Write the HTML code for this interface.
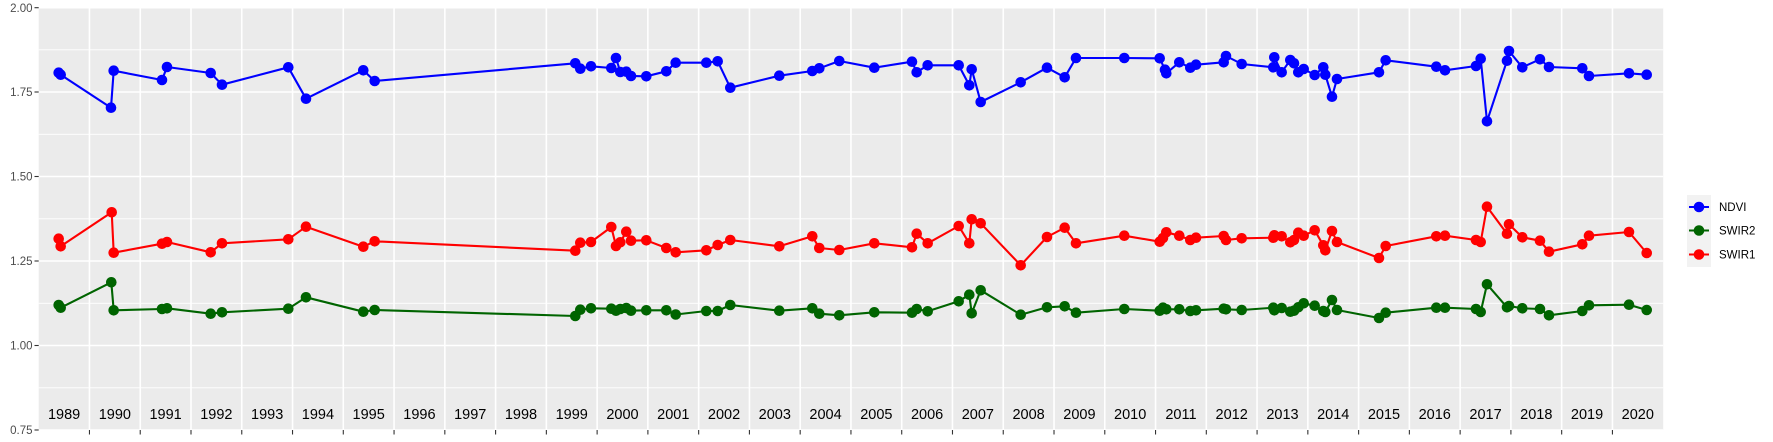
<!DOCTYPE html>
<html><head><meta charset="utf-8"><style>
html,body{margin:0;padding:0;background:#fff;}
svg{display:block;font-family:"Liberation Sans",sans-serif;}
</style></head><body>
<svg width="1773" height="442" viewBox="0 0 1773 442" xmlns="http://www.w3.org/2000/svg">
<rect x="38.7" y="7.7" width="1624.5" height="422.3" fill="#EBEBEB"/>
<g stroke="#fff" stroke-width="0.8">
<line x1="38.7" x2="1663.2" y1="49.8" y2="49.8"/><line x1="38.7" x2="1663.2" y1="134.3" y2="134.3"/>
<line x1="38.7" x2="1663.2" y1="218.8" y2="218.8"/><line x1="38.7" x2="1663.2" y1="303.3" y2="303.3"/>
<line x1="38.7" x2="1663.2" y1="387.8" y2="387.8"/>
</g>
<g stroke="#fff" stroke-width="1.6">
<line x1="38.7" x2="1663.2" y1="7.7" y2="7.7"/><line x1="38.7" x2="1663.2" y1="92" y2="92"/>
<line x1="38.7" x2="1663.2" y1="176.5" y2="176.5"/><line x1="38.7" x2="1663.2" y1="261" y2="261"/>
<line x1="38.7" x2="1663.2" y1="345.5" y2="345.5"/><line x1="38.7" x2="1663.2" y1="430" y2="430"/>
</g>
<g id="vg" stroke="#fff" stroke-width="1.6"></g>
<g id="ticks" stroke="#333" stroke-width="1.1">
<line x1="34.5" x2="38.7" y1="7.7" y2="7.7"/><line x1="34.5" x2="38.7" y1="92" y2="92"/>
<line x1="34.5" x2="38.7" y1="176.5" y2="176.5"/><line x1="34.5" x2="38.7" y1="261" y2="261"/>
<line x1="34.5" x2="38.7" y1="345.5" y2="345.5"/><line x1="34.5" x2="38.7" y1="430" y2="430"/>
</g>
<g font-size="11.5" fill="#4d4d4d" text-anchor="end">
<text x="32.5" y="11.8">2.00</text><text x="32.5" y="96.1">1.75</text><text x="32.5" y="180.6">1.50</text>
<text x="32.5" y="265.1">1.25</text><text x="32.5" y="349.6">1.00</text><text x="32.5" y="434.1">0.75</text>
</g>
<g id="years" font-size="14.5" fill="#000" text-anchor="middle"></g>
<g id="series"></g>
<rect x="1687" y="195" width="24" height="72" fill="#F2F2F2"/>
<line x1="1689" x2="1709" y1="207" y2="207" stroke="#0000FF" stroke-width="2"/><circle cx="1699" cy="207" r="5.3" fill="#0000FF"/>
<line x1="1689" x2="1709" y1="230.5" y2="230.5" stroke="#006400" stroke-width="2"/><circle cx="1699" cy="230.5" r="5.3" fill="#006400"/>
<line x1="1689" x2="1709" y1="254.5" y2="254.5" stroke="#FF0000" stroke-width="2"/><circle cx="1699" cy="254.5" r="5.3" fill="#FF0000"/>
<g font-size="11.5" fill="#000">
<text x="1719" y="211.2">NDVI</text><text x="1719" y="234.7">SWIR2</text><text x="1719" y="258.7">SWIR1</text>
</g>
</svg>
<script>
var NS="http://www.w3.org/2000/svg";
function el(t,a,p){var e=document.createElementNS(NS,t);for(var k in a)e.setAttribute(k,a[k]);p.appendChild(e);return e;}
var vg=document.getElementById('vg'),tk=document.getElementById('ticks'),yr=document.getElementById('years');
var w=1624.5/32;
for(var k=1;k<32;k++){var x=38.7+w*k;el('line',{x1:x,x2:x,y1:7.7,y2:430},vg);el('line',{x1:x,x2:x,y1:430,y2:434.5},tk);}
for(var k=0;k<32;k++){var t=el('text',{x:38.7+w*(k+0.5),y:419},yr);t.textContent=1989+k;}
var ndvi=[[58.7,72.7],[60.7,74.7],[111,107.7],[113.7,70.7],[162,80],[167,67],[210.7,73],[222,84.7],[288.3,67.3],[306,98.7],[363.3,70.3],[374.7,81],[575.3,63.3],[580.3,68.7],[591,66.3],[611.3,68],[616,58],[620.3,72],[626.3,71.7],[631,76],[646.3,76.3],[666.3,71.3],[675.7,62.7],[706.3,62.7],[717.7,61.3],[730.3,87.7],[779.3,75.7],[812.3,71],[819.3,68.3],[839.3,61],[874.3,67.7],[912,61.7],[916.7,72.3],[927.7,65.3],[958.7,65.3],[969.3,85.3],[971.7,69.3],[980.7,102],[1020.7,82.3],[1047,67.7],[1064.7,77.3],[1076,58],[1124.3,58],[1159.7,58.3],[1165,69.7],[1166.3,73.3],[1179.3,62.3],[1190.3,67.7],[1196,64.7],[1223.7,62.3],[1226,56],[1241.7,64],[1273.3,67.3],[1274.3,57.3],[1281.7,72.3],[1290.3,60],[1294,63.3],[1298.3,72.3],[1303.7,69],[1314.7,75],[1323.3,67.3],[1325.3,74.7],[1332,96.7],[1337,79],[1379,72.3],[1385.7,60.3],[1436.3,66.7],[1445,70.3],[1476,66],[1480.7,58.7],[1487,121.3],[1507,60.7],[1509,51],[1522.3,67.3],[1540,59.3],[1549,67],[1582.3,68.3],[1589,76],[1629,73.3],[1646.7,74.7]];
var swir1=[[58.7,238.7],[60.7,246.3],[111.7,212.3],[113.7,252.7],[162,243.7],[167,242],[210.7,252.3],[222,243.3],[288.3,239.3],[306,226.7],[363.3,246.7],[374.7,241.3],[575.3,250.7],[580.3,242.7],[591,242],[611.3,227],[616,246],[620.3,242.3],[626.3,231.7],[631,240.7],[646.3,240.3],[666.3,248],[675.7,252.3],[706.3,250.3],[717.7,245],[730.3,240],[779.3,246.3],[812.3,236.3],[819.3,248],[839.3,250],[874.3,243.3],[912,247.3],[916.7,233.7],[927.7,243.3],[958.7,226],[969.3,243.3],[971.7,219.3],[980.7,223.3],[1020.7,265.3],[1047,237],[1064.7,227.7],[1076,243.3],[1124.3,235.7],[1159.7,241.7],[1163,238],[1166.3,232.3],[1179.3,235.7],[1190.3,240],[1196,237.7],[1223.7,236],[1226,240],[1241.7,238.3],[1273.3,237.7],[1274.3,235.3],[1281.7,236.3],[1290.3,242.3],[1294,240],[1298.3,232.7],[1303.7,235.7],[1314.7,230.3],[1323.3,245.3],[1325.3,250.3],[1332,231],[1337,242],[1379,258],[1385.7,246],[1436.3,236.3],[1445,235.7],[1476,240],[1480.7,242],[1487,206.7],[1507,233.7],[1509,224.3],[1522.3,237.3],[1540,240.7],[1549,251.7],[1582.3,244.3],[1589,235.7],[1629,232],[1646.7,253]];
var swir2=[[58.7,305],[60.7,307.7],[111.3,282.3],[113.7,310.3],[162,309],[167,308.3],[210.7,313.7],[222,312.3],[288.3,308.7],[306,297.3],[363.3,311.7],[374.7,310],[575.3,316],[580.3,309.7],[591,308.3],[611.3,308.7],[616,310.7],[620.3,309],[626.3,308],[631,310.7],[646.3,310.3],[666.3,310.3],[675.7,314.5],[706.3,311],[717.7,311],[730.3,305],[779.3,310.7],[812.3,308.3],[819.3,313.7],[839.3,315.3],[874.3,312.3],[912,312.7],[916.7,309],[927.7,311.3],[958.7,301.3],[969.3,294.7],[971.7,313.3],[980.7,290.3],[1020.7,314.7],[1047,307.3],[1064.7,306.3],[1076,312.7],[1124.3,309],[1159.7,310.7],[1163,307.7],[1166.3,309.3],[1179.3,309.3],[1190.3,311],[1196,310.3],[1223.7,308.7],[1226,309.3],[1241.7,310],[1273.3,307.7],[1274.3,310.3],[1281.7,308],[1290.3,311.7],[1294,310.7],[1298.3,307.3],[1303.7,303.3],[1314.7,305.7],[1323.3,311],[1325.3,312],[1332,300],[1337,310],[1379,318],[1385.7,312.7],[1436.3,307.7],[1445,307.7],[1476,309],[1480.7,312],[1487,284.3],[1507,307.3],[1509,306],[1522.3,308.3],[1540,309],[1549,315.3],[1582.3,311],[1589,305.3],[1629,304.7],[1646.7,310]];
var sg=document.getElementById('series');
function draw(d,c){el('polyline',{points:d.map(function(p){return p.join(',')}).join(' '),fill:'none',stroke:c,'stroke-width':2.1,'stroke-linejoin':'round'},sg);
d.forEach(function(p){el('circle',{cx:p[0],cy:p[1],r:5.3,fill:c},sg);});}
draw(ndvi,'#0000FF');draw(swir2,'#006400');draw(swir1,'#FF0000');
</script>
</body></html>
